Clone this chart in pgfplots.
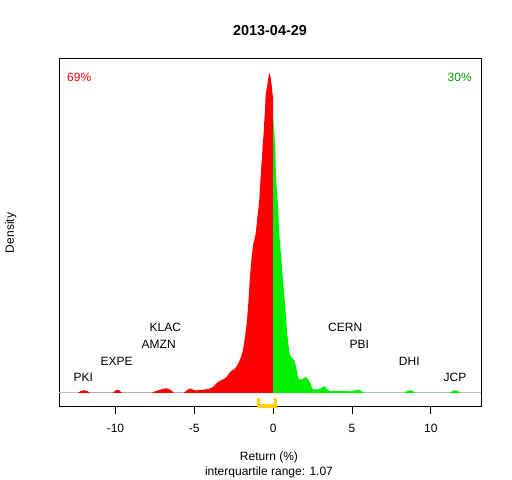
\documentclass[border=0pt]{standalone}
\usepackage{pgfplots}
\pgfplotsset{compat=1.18}
\usepackage{fontspec}
\setmainfont{Liberation Sans}
\definecolor{rred}{RGB}{255,0,0}
\definecolor{rgreen}{RGB}{0,238,0}
\definecolor{pctgreen}{RGB}{0,160,0}
\definecolor{rgold}{RGB}{255,208,0}
\definecolor{rgray}{RGB}{190,190,190}
\begin{document}
\begin{tikzpicture}[font=\fontsize{12bp}{14bp}\selectfont]
\path[use as bounding box] (-59bp,-74bp) rectangle (453bp,406bp);
\begin{axis}[
  at={(0,0)}, anchor=south west,
  scale only axis, width=422bp, height=347bp,
  xmin=-13.58, xmax=13.18, ymin=-13, ymax=334,
  axis line style={line width=1bp},
  xtick={-10,-5,0,5,10}, xticklabels={-10,-5,0,5,10},
  ytick=\empty, xtick pos=bottom,
  tick align=outside, major tick length=7.5bp,
  xtick style={black, line width=1bp},
  xticklabel style={inner sep=0pt, anchor=north, yshift=-10.9bp},
  clip=false,
]
% zero line
\addplot[rgray, line width=1bp] coordinates {(-13.58,0)(13.18,0)};
% red part (x <= 0)
\addplot[fill=rred, draw=none] coordinates {
(-12.40,0)(-12.188,2)(-11.998,2.8)(-11.807,2)(-11.60,0)
(-10.18,0)(-9.968,2.8)(-9.778,2.8)(-9.57,0)
(-7.70,0)(-7.432,2)(-7.115,3.5)(-6.798,4.8)(-6.544,3.5)(-6.27,0)
(-5.66,0)(-5.466,3)(-5.276,4.5)(-5.086,3.5)(-4.896,2.5)(-4.642,3)(-4.325,3.5)(-4.071,4)
(-3.881,5.5)(-3.754,7)(-3.627,9)(-3.500,11)(-3.310,12.7)(-3.120,14)(-2.930,16.5)(-2.739,21)
(-2.549,23)(-2.422,24.5)(-2.295,27)(-2.168,31)(-2.042,36)(-1.947,41)(-1.883,46)(-1.788,56)
(-1.680,69)(-1.579,89)(-1.471,116)(-1.363,136)(-1.262,149)(-1.122,158)(-1.046,168)
(-1.008,175)(-0.945,183)(-0.881,193)(-0.837,206)(-0.793,216)(-0.755,226)(-0.710,235)
(-0.666,248)(-0.602,260)(-0.552,275)(-0.520,281)(-0.476,298)(-0.374,308)(-0.298,316)
(-0.247,320)(-0.159,316)(-0.095,308)(-0.032,298)(0,296)(0,0)
} \closedcycle;
% green part (x >= 0)
\addplot[fill=rgreen, draw=none] coordinates {
(0,0)(0,276)(0.070,262)(0.133,246)(0.178,216)(0.241,202)(0.304,189)(0.368,165)(0.431,150)
(0.539,130)(0.640,110)(0.748,89)(0.856,66)(0.958,49)(1.065,38)(1.160,35.5)(1.275,34)
(1.382,31)(1.490,23)(1.592,14.4)(1.699,13.5)(1.807,13.7)(1.953,15)(2.080,16)(2.226,13.4)
(2.378,9.4)(2.460,5)(2.543,3.6)(2.860,3.6)(3.075,5)(3.240,7)(3.431,3.6)(3.602,2.2)
(4.553,2.2)(4.870,1.5)(5.187,2.8)(5.504,2.8)(5.78,0)
(8.34,0)(8.485,2)(8.675,2.8)(8.865,2)(9.01,0)
(11.19,0)(11.370,2)(11.529,2.8)(11.687,2)(11.87,0)
} \closedcycle;
% interquartile range bracket
\addplot[rgold, line width=3bp] coordinates {(-0.94,-5.3)(-0.94,-13)(0.13,-13)(0.13,-5.3)};
% labels
\node[rred] at (axis cs:-12.30,315.3) {69\%};
\node[pctgreen] at (axis cs:11.83,315.3) {30\%};
\node at (axis cs:-6.84,65.7) {KLAC};
\node at (axis cs:-7.26,48.7) {AMZN};
\node at (axis cs:-9.92,31.3) {EXPE};
\node at (axis cs:-12.04,15.3) {PKI};
\node at (axis cs:4.57,65.7) {CERN};
\node at (axis cs:5.46,48.7) {PBI};
\node at (axis cs:8.63,31.3) {DHI};
\node at (axis cs:11.53,15.3) {JCP};
\end{axis}
\node[font=\bfseries\fontsize{14.4bp}{16bp}\selectfont] at (211bp,375bp) {2013-04-29};
\node at (210bp,-51.3bp) {Return (\%)};
\node at (210bp,-66.3bp) {interquartile range: 1.07};
\node[rotate=90] at (-48.3bp,173bp) {Density};
\end{tikzpicture}
\end{document}
